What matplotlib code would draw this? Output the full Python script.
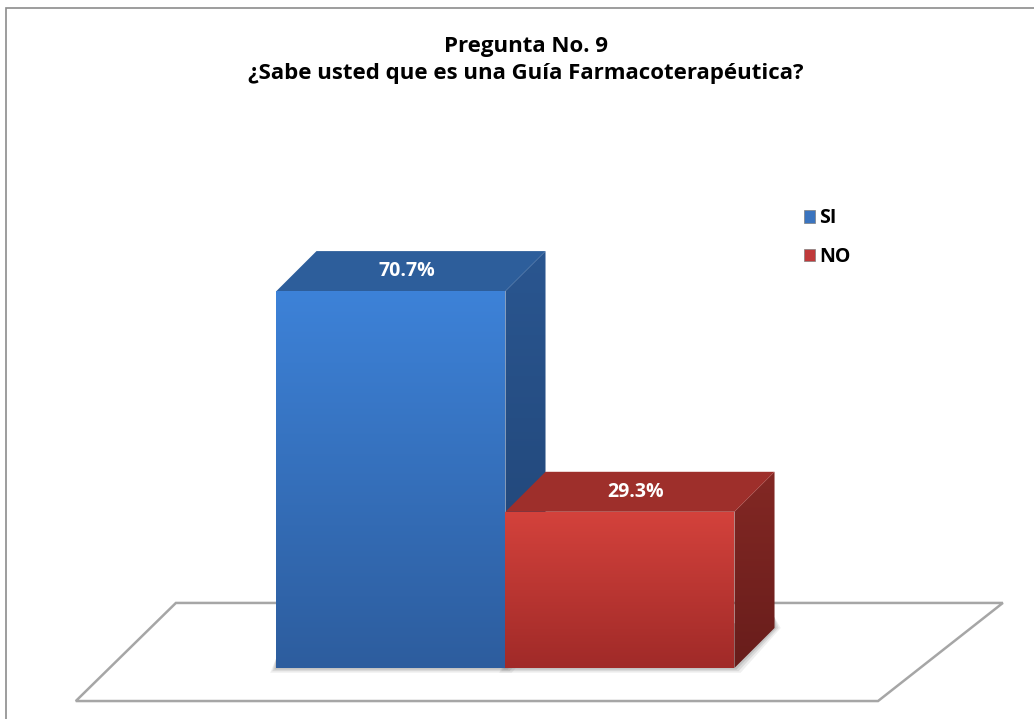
import matplotlib
matplotlib.use("Agg")
import matplotlib.pyplot as plt
from matplotlib.patches import Polygon, Rectangle, Patch
from matplotlib.colors import LinearSegmentedColormap
import numpy as np

# data
title = 'Pregunta No. 9\n¿Sabe usted que es una Guía Farmacoterapéutica?'
categories = ['SI', 'NO']
values = [70.7, 29.3]
labels = ['70.7%', '29.3%']

# colours: front (top, bottom), top face, side (top, bottom)
front_top = ['#3d82d8', '#d4423c']
front_bot = ['#2d5d9e', '#a02a28']
top_face = ['#2d5e9b', '#9e2f2b']
side_top = ['#2a5690', '#832824']
side_bot = ['#1f4272', '#681d1b']
legend_col = ['#3a74bf', '#c0393a']

plt.rcParams['font.family'] = ['Open Sans', 'DejaVu Sans']

fig = plt.figure(figsize=(10.34, 7.19), dpi=100)
ax = fig.add_axes([0, 0, 1, 1])

# 3d depth offset (x in bar widths, y in percent)
dx, dy = 0.175, 7.5


def grad_fill(verts, c_top, c_bot, z):
    poly = Polygon(verts, closed=True, fc='none', ec='none', zorder=z)
    ax.add_patch(poly)
    xs, ys = zip(*verts)
    cmap = LinearSegmentedColormap.from_list('g', [c_bot, c_top])
    im = ax.imshow(np.linspace(0, 1, 256).reshape(-1, 1), cmap=cmap,
                   extent=[min(xs), max(xs), min(ys), max(ys)],
                   origin='lower', aspect='auto', zorder=z,
                   interpolation='bilinear')
    im.set_clip_path(poly)


# floor
floor = Polygon([(-1.376, -6.2), (2.127, -6.2), (2.672, 12.2), (-0.939, 12.2)],
                closed=True, fc='white', ec='#a6a6a6', lw=1.8, zorder=1)
ax.add_patch(floor)

for i, v in enumerate(values):
    x0, x1 = i - 0.5, i + 0.5
    z = 3 + i * 3
    # soft shadow round the footprint
    for k, a in [(3, 0.12), (2, 0.18), (1, 0.25)]:
        ex, ey = 0.009 * k, 0.3 * k
        ax.add_patch(Polygon([(x0 - ex, -ey), (x1 + ex, -ey), (x1 + dx + ex, dy), (x1 + dx, dy + 2),
                              (x0, 2)], fc='#808080', ec='none', alpha=a, zorder=2))
    grad_fill([(x1, 0), (x1 + dx, dy), (x1 + dx, v + dy), (x1, v)], side_top[i], side_bot[i], z)
    ax.add_patch(Polygon([(x0, v), (x1, v), (x1 + dx, v + dy), (x0 + dx, v + dy)],
                         fc=top_face[i], ec='none', zorder=z + 0.5))
    grad_fill([(x0, 0), (x1, 0), (x1, v), (x0, v)], front_top[i], front_bot[i], z + 1)
    ax.text(i + dx / 2 - 0.02, v + dy / 2, labels[i], ha='center', va='center',
            color='white', fontsize=14, fontweight='bold', zorder=10)

ax.set_xlim(-1.707, 2.808)
ax.set_ylim(-9.57, 125.3)
ax.axis('off')

# legend
handles = [Patch(facecolor=legend_col[i], edgecolor='#7f7f7f', lw=0.5) for i in range(2)]
fig.legend(handles, categories, loc='upper left', bbox_to_anchor=(786 / 1034, 1 - 191 / 719),
           frameon=False, handlelength=0.6, handleheight=0.6, handletextpad=0.2,
           labelspacing=0.95, prop={'weight': 'bold', 'size': 14})

fig.text(526 / 1034, 1 - 60 / 719, title, ha='center', va='center', fontsize=16,
         fontweight='bold', linespacing=1.4)

# chart border
fig.patches.append(Rectangle((6 / 1034, -0.1), 1.2, 1 - 8 / 719 + 0.1, transform=fig.transFigure,
                             fill=False, ec='#8c8c8c', lw=1.2))

fig.savefig('out.png', dpi=100)
